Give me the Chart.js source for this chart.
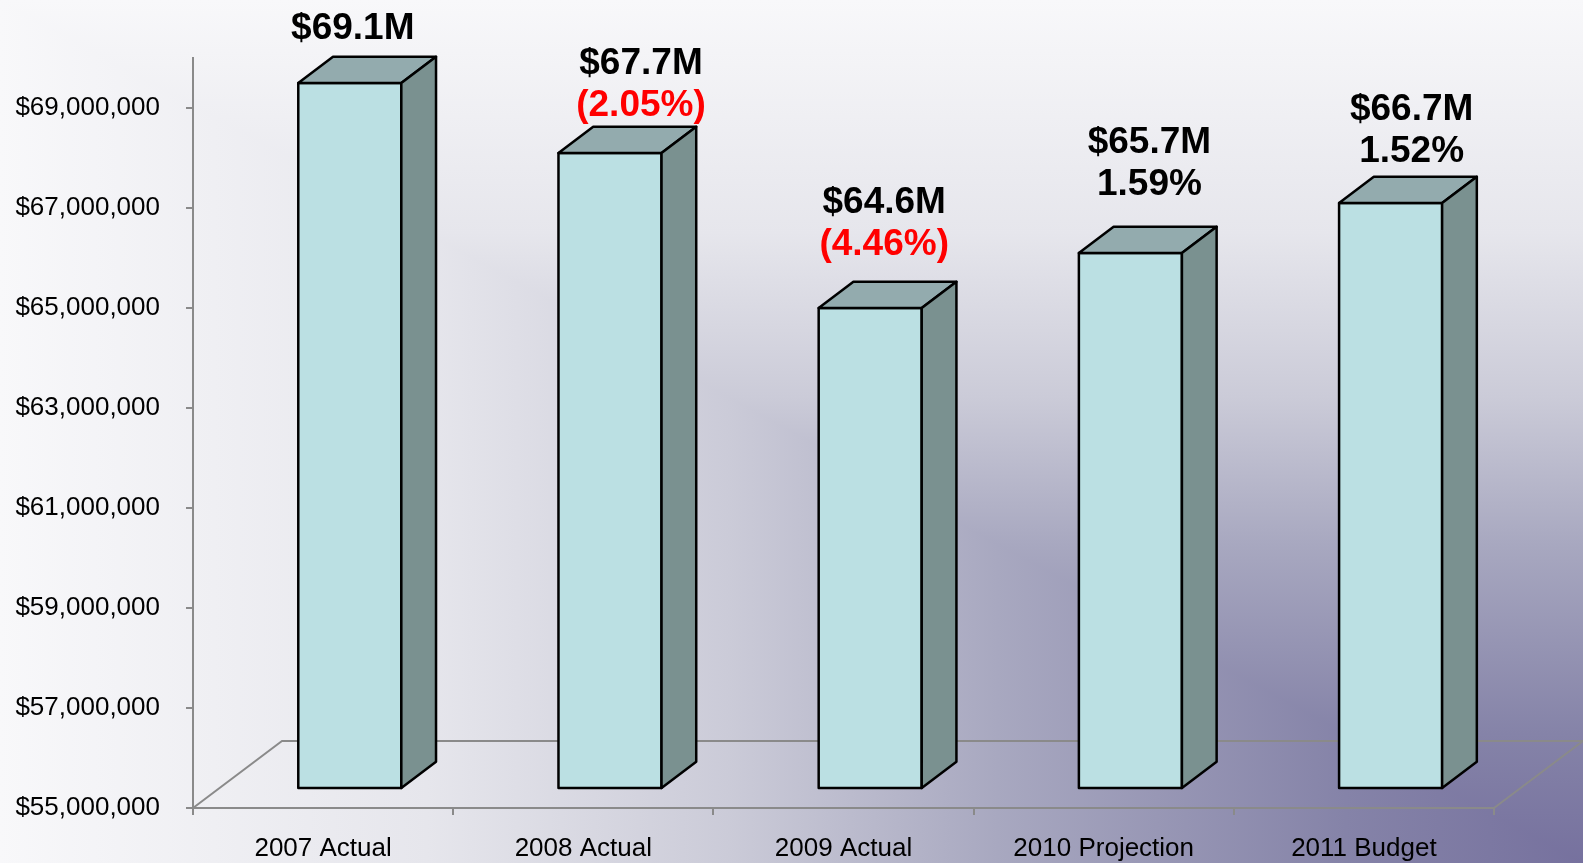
<!DOCTYPE html>
<html>
<head>
<meta charset="utf-8">
<script src="https://cdn.jsdelivr.net/npm/chart.js@4"></script>
<style>
  html, body { margin: 0; padding: 0; overflow: hidden; }
  canvas { display: block; }
</style>
</head>
<body>
<canvas id="chart" width="1583" height="863"></canvas>
<script>
const categories = ['2007 Actual', '2008 Actual', '2009 Actual', '2010 Projection', '2011 Budget'];
const revenue = [69.1e6, 67.7e6, 64.6e6, 65.7e6, 66.7e6];
const pctChange = [null, -2.05, -4.46, 1.59, 1.52];
const yTicks = [55e6, 57e6, 59e6, 61e6, 63e6, 65e6, 67e6, 69e6];

// the value labels were hand placed text boxes, so each one gets its own nudge
const labelNudgeX = [3, 31, 14, 19, 21];
const labelGap = [18, 11, 27, 32, 15];

const FONT = 'Arial, "Liberation Sans", sans-serif';
const AXIS_GRAY = '#8a8a8a';

// 3d floor depth, and where the bars sit inside it
const DEPTH_X = 89;
const DEPTH_Y = -67;
const BAR_FRONT = 0.3;
const BAR_DEPTH = 0.39;

const backdrop = {
    id: 'backdrop',
    beforeDraw(chart) {
        const {ctx, width: w, height: h} = chart;
        const stops = [
            [0, '#76719e'], [0.15, '#8583a8'], [0.37, '#a8a8c0'],
            [0.54, '#cbcbd8'], [0.73, '#e6e6ec'], [1, '#f8f8fa']
        ];
        // rectangular "from corner" gradient: vertical above the diagonal, horizontal below
        const vert = ctx.createLinearGradient(0, h, 0, 0);
        const horiz = ctx.createLinearGradient(w, 0, 0, 0);
        stops.forEach(([t, c]) => { vert.addColorStop(t, c); horiz.addColorStop(t, c); });
        ctx.save();
        ctx.fillStyle = vert;
        ctx.fillRect(0, 0, w, h);
        ctx.beginPath();
        ctx.moveTo(0, 0);
        ctx.lineTo(w, h);
        ctx.lineTo(0, h);
        ctx.closePath();
        ctx.fillStyle = horiz;
        ctx.fill();
        ctx.restore();
    }
};

function face(ctx, pts, fill) {
    ctx.beginPath();
    ctx.moveTo(pts[0][0], pts[0][1]);
    for (let i = 1; i < pts.length; i++) ctx.lineTo(pts[i][0], pts[i][1]);
    ctx.closePath();
    ctx.fillStyle = fill;
    ctx.fill();
    ctx.stroke();
}

const threeD = {
    id: 'threeD',
    beforeDatasetsDraw(chart) {
        const {ctx, chartArea: a} = chart;
        const yScale = chart.scales.y;
        const floorY = yScale.getPixelForValue(yScale.min);
        ctx.save();
        ctx.strokeStyle = AXIS_GRAY;
        ctx.lineWidth = 2;
        ctx.beginPath();
        ctx.moveTo(a.left, floorY);
        ctx.lineTo(a.left + DEPTH_X, floorY + DEPTH_Y);
        ctx.lineTo(a.right + DEPTH_X, floorY + DEPTH_Y);
        ctx.lineTo(a.right, floorY);
        ctx.stroke();
        ctx.restore();
    },
    afterDatasetsDraw(chart) {
        const {ctx} = chart;
        const yScale = chart.scales.y;
        const floorY = yScale.getPixelForValue(yScale.min);
        const meta = chart.getDatasetMeta(0);
        const fx = DEPTH_X * BAR_FRONT, fy = DEPTH_Y * BAR_FRONT;
        const bx = DEPTH_X * BAR_DEPTH, by = DEPTH_Y * BAR_DEPTH;

        ctx.save();
        ctx.lineWidth = 2.5;
        ctx.lineJoin = 'round';
        ctx.strokeStyle = '#000';
        meta.data.forEach((bar, i) => {
            const {x, y, width} = bar.getProps(['x', 'y', 'width'], true);
            const l = x - width / 2 + fx, r = x + width / 2 + fx;
            const t = y + fy, b = floorY + fy;

            face(ctx, [[l, t], [r, t], [r, b], [l, b]], '#bbe0e3');
            face(ctx, [[l, t], [l + bx, t + by], [r + bx, t + by], [r, t]], '#93abae');
            face(ctx, [[r, t], [r + bx, t + by], [r + bx, b + by], [r, b]], '#7a9190');

            // value label, plus the change line when there is one
            const lines = [{text: '$' + (revenue[i] / 1e6).toFixed(1) + 'M', color: '#000'}];
            const p = pctChange[i];
            if (p !== null) {
                lines.push(p < 0
                    ? {text: '(' + Math.abs(p).toFixed(2) + '%)', color: '#ff0000'}
                    : {text: p.toFixed(2) + '%', color: '#000'});
            }
            ctx.font = 'bold 37px ' + FONT;
            ctx.textAlign = 'center';
            ctx.textBaseline = 'alphabetic';
            const cx = (l + r) / 2 + labelNudgeX[i];
            let baseline = t + by - labelGap[i];
            for (let k = lines.length - 1; k >= 0; k--) {
                ctx.fillStyle = lines[k].color;
                ctx.fillText(lines[k].text, cx, baseline);
                baseline -= 42;
            }
        });
        ctx.restore();
    }
};

new Chart(document.getElementById('chart'), {
    type: 'bar',
    data: {
        labels: categories,
        datasets: [{
            data: revenue,
            backgroundColor: 'rgba(0,0,0,0)',
            borderWidth: 0,
            categoryPercentage: 1,
            barPercentage: 0.396
        }]
    },
    options: {
        responsive: false,
        animation: false,
        devicePixelRatio: 1,
        events: [],
        layout: {padding: {top: 58, right: 89, left: 0, bottom: 0}},
        plugins: {
            legend: {display: false},
            tooltip: {enabled: false}
        },
        scales: {
            x: {
                grid: {drawOnChartArea: false, drawTicks: true, tickLength: 7, color: AXIS_GRAY, lineWidth: 2},
                border: {display: true, color: AXIS_GRAY, width: 2},
                ticks: {color: '#000', font: {family: FONT, size: 26}, padding: 18, maxRotation: 0},
                afterFit: s => { s.height = 55; }
            },
            y: {
                min: 55e6,
                max: 70e6,
                afterBuildTicks: s => { s.ticks = yTicks.map(v => ({value: v})); },
                grid: {drawOnChartArea: false, drawTicks: true, tickLength: 7, color: AXIS_GRAY, lineWidth: 2},
                border: {display: true, color: AXIS_GRAY, width: 2},
                ticks: {
                    color: '#000',
                    font: {family: FONT, size: 26},
                    padding: 26,
                    callback: v => '$' + Number(v).toLocaleString('en-US')
                },
                afterFit: s => { s.width = 193; }
            }
        }
    },
    plugins: [backdrop, threeD]
});
</script>
</body>
</html>
